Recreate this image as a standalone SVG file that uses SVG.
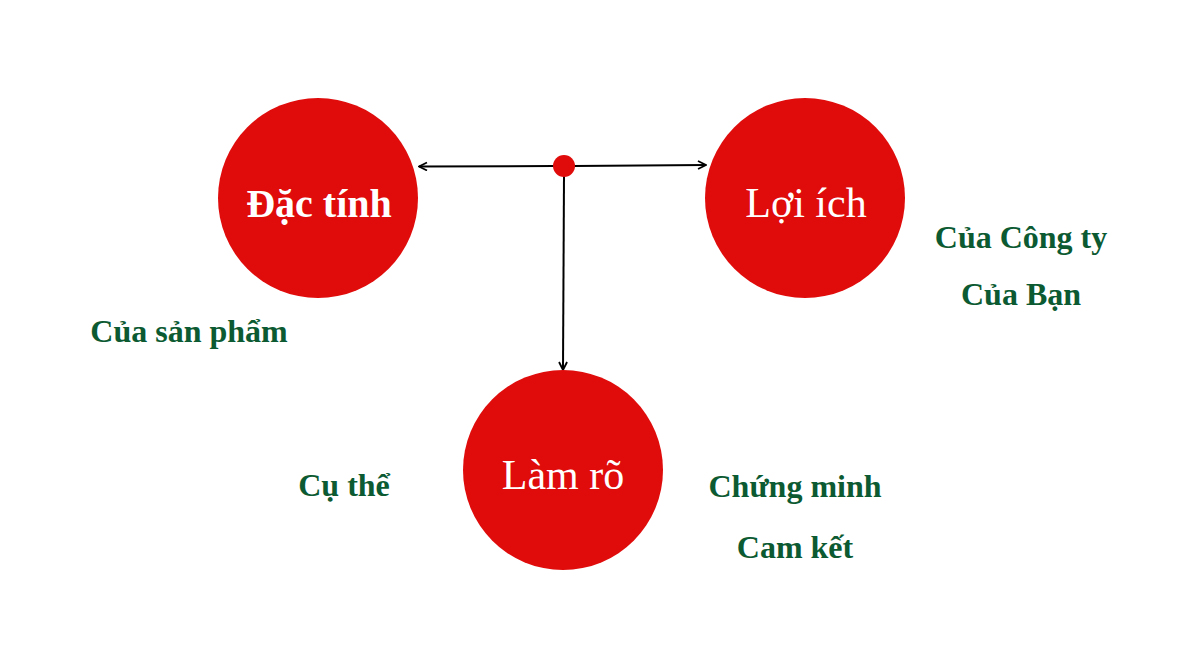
<svg xmlns="http://www.w3.org/2000/svg" width="1188" height="669" viewBox="0 0 1188 669">
<style>
.node{fill:#e00b0b}
.lbl{font-family:"Liberation Serif","Times New Roman",serif;font-size:40px;fill:#ffffff;text-anchor:middle}
.reg{font-size:42px}
.note{font-family:"Liberation Serif","Times New Roman",serif;font-weight:bold;font-size:32px;fill:#0b5a32;text-anchor:middle}
.conn{stroke:#000;stroke-width:2;fill:none}
</style>
<defs>
<marker id="arr" viewBox="0 0 10 10" refX="9" refY="5" markerWidth="10" markerHeight="10" markerUnits="userSpaceOnUse" orient="auto">
<path d="M1,1 L9,5 L1,9" fill="none" stroke="#000" stroke-width="1.8"/>
</marker>
</defs>
<rect width="1188" height="669" fill="#ffffff"/>
<g id="connectors">
<line class="conn" x1="554" y1="166" x2="419" y2="166.5" marker-end="url(#arr)"/>
<line class="conn" x1="574" y1="166" x2="706" y2="165" marker-end="url(#arr)"/>
<line class="conn" x1="564" y1="176" x2="563" y2="370" marker-end="url(#arr)"/>
</g>
<g id="hub"><circle class="node" cx="564" cy="166" r="11"/></g>
<g id="dac-tinh">
<circle class="node" cx="318" cy="198" r="100"/>
<text class="lbl" x="319" y="217" font-weight="bold">Đặc tính</text>
</g>
<g id="loi-ich">
<circle class="node" cx="805" cy="198" r="100"/>
<text class="lbl reg" x="806" y="217">Lợi ích</text>
</g>
<g id="lam-ro">
<circle class="node" cx="563" cy="470" r="100"/>
<text class="lbl reg" x="563" y="489">Làm rõ</text>
</g>
<g id="notes">
<text class="note" x="189" y="342">Của sản phẩm</text>
<text class="note" x="344" y="496">Cụ thể</text>
<text class="note" x="1021" y="248">Của Công ty</text>
<text class="note" x="1021" y="305">Của Bạn</text>
<text class="note" x="795" y="497">Chứng minh</text>
<text class="note" x="795" y="558">Cam kết</text>
</g>
</svg>
